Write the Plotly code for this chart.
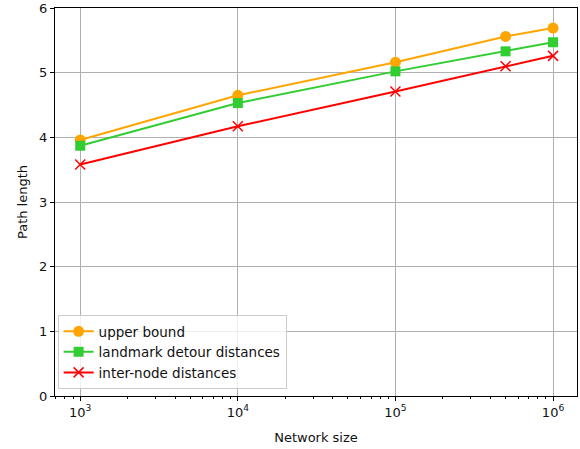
import plotly.graph_objects as go

network_size = [1e3, 1e4, 1e5, 5e5, 1e6]
upper_bound = [3.96, 4.65, 5.16, 5.56, 5.69]
landmark = [3.87, 4.53, 5.02, 5.33, 5.47]
inter_node = [3.58, 4.17, 4.71, 5.10, 5.26]
xtick_vals = [1e3, 1e4, 1e5, 1e6]
xtick_text = ["10<sup>3</sup>", "10<sup>4</sup>", "10<sup>5</sup>", "10<sup>6</sup>"]

fig = go.Figure()
fig.add_trace(go.Scatter(x=network_size, y=upper_bound, mode="lines+markers",
                         name="upper bound", line=dict(color="#FFA500", width=2),
                         marker=dict(symbol="circle", size=11, color="#FFA500")))
fig.add_trace(go.Scatter(x=network_size, y=landmark, mode="lines+markers",
                         name="landmark detour distances", line=dict(color="#32CD32", width=2),
                         marker=dict(symbol="square", size=10, color="#32CD32")))
fig.add_trace(go.Scatter(x=network_size, y=inter_node, mode="lines+markers",
                         name="inter-node distances", line=dict(color="#FF0000", width=2),
                         marker=dict(symbol="x-thin", size=10, color="#FF0000",
                                     line=dict(color="#FF0000", width=1.5))))

fig.update_layout(
    width=580, height=449,
    margin=dict(l=55, r=3, t=8, b=53),
    paper_bgcolor="white", plot_bgcolor="white",
    font=dict(family="DejaVu Sans", size=13, color="#111"),
    showlegend=True,
    legend=dict(x=0.005, y=0.018, xanchor="left", yanchor="bottom",
                bgcolor="rgba(255,255,255,0.8)", bordercolor="#cccccc", borderwidth=1,
                font=dict(size=13.5), tracegroupgap=0, itemwidth=30),
)
fig.update_xaxes(type="log", range=[2.84, 6.152], automargin=False,
                 tickvals=xtick_vals, ticktext=xtick_text,
                 showgrid=True, gridcolor="#b0b0b0", gridwidth=1,
                 showline=True, linecolor="black", linewidth=1, mirror=True,
                 ticks="outside", ticklen=4, tickcolor="black",
                 minor=dict(ticks="outside", ticklen=2, tickcolor="black", showgrid=False,
                            tickvals=[v * m for v in [100, 1e3, 1e4, 1e5, 1e6] for m in range(2, 10)]),
                 title=dict(text="Network size", standoff=14, font=dict(size=13)), zeroline=False)
fig.update_yaxes(range=[0, 6], tickvals=[0, 1, 2, 3, 4, 5, 6], automargin=False,
                 showgrid=True, gridcolor="#b0b0b0", gridwidth=1,
                 showline=True, linecolor="black", linewidth=1, mirror=True,
                 ticks="outside", ticklen=4, tickcolor="black",
                 title=dict(text="Path length", standoff=8, font=dict(size=13)), zeroline=False)

fig.write_html("out.html", config={"displayModeBar": False},
               post_script="document.body.style.margin='0';")
